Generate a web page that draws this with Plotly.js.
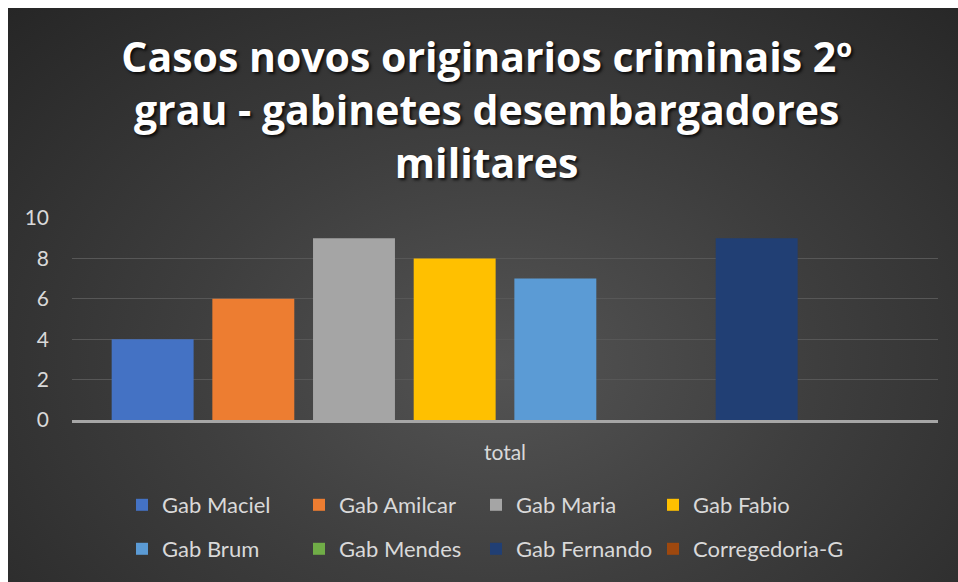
<!DOCTYPE html>
<html>
<head>
<meta charset="utf-8">
<script src="https://cdn.plot.ly/plotly-3.0.1.min.js"></script>
<style>
  html, body { margin: 0; padding: 0; background: #ffffff; width: 958px; height: 582px; overflow: hidden; }
  #bg { position: absolute; left: 8px; top: 8px; width: 950px; height: 574px;
        background: radial-gradient(ellipse farthest-corner at 52% 62%, #545454 0%, #3e3e3e 45%, #262626 100%); }
  #chart { position: absolute; left: 0; top: 0; width: 958px; height: 582px; }
</style>
</head>
<body>
<div id="bg"></div>
<div id="chart"></div>
<script>
const categories = ["total"];
const seriesNames = ["Gab Maciel", "Gab Amilcar", "Gab Maria", "Gab Fabio",
                     "Gab Brum", "Gab Mendes", "Gab Fernando", "Corregedoria-G"];
const seriesValues = [4, 6, 9, 8, 7, 0, 9, 0];
const seriesColors = ["#4472c4", "#ed7d31", "#a5a5a5", "#ffc000",
                      "#5b9bd5", "#70ad47", "#213f74", "#9e480e"];
const titleText = "Casos novos originarios criminais 2º<br>grau - gabinetes desembargadores<br>militares";
const legendIds = ['legend', 'legend', 'legend', 'legend', 'legend2', 'legend2', 'legend2', 'legend3'];

const traces = seriesNames.map((name, i) => ({
  type: 'bar',
  name: name,
  x: categories,
  y: [seriesValues[i]],
  marker: { color: seriesColors[i], line: { width: 0 } },
  legend: legendIds[i],
  hoverinfo: 'none'
}));

const legendFont = { family: 'Lato, "Open Sans", sans-serif', size: 22, color: '#d9d9d9' };

function legendBox(xpx, ypx, ew) {
  return {
    orientation: 'h',
    xref: 'container', yref: 'container',
    x: xpx / 958, xanchor: 'left',
    y: 1 - ypx / 582, yanchor: 'middle',
    font: legendFont,
    bgcolor: 'rgba(0,0,0,0)',
    entrywidth: ew,
    entrywidthmode: 'pixels',
    itemclick: false, itemdoubleclick: false
  };
}

const layout = {
  width: 958,
  height: 582,
  paper_bgcolor: 'rgba(0,0,0,0)',
  plot_bgcolor: 'rgba(0,0,0,0)',
  margin: { l: 72, r: 20, t: 218, b: 162 },
  barmode: 'group',
  bargap: 0.07,
  bargroupgap: 0.186,
  title: {
    text: titleText,
    font: { family: '"Open Sans", Lato, sans-serif', size: 41, weight: 700, color: '#ffffff',
            shadow: '2px 2px 3px rgba(0,0,0,0.8)' },
    x: 0.508, xanchor: 'center', xref: 'container',
    y: 0.877, yanchor: 'middle', yref: 'container'
  },
  xaxis: {
    showgrid: false,
    showline: true,
    linecolor: '#a6a6a6',
    linewidth: 3,
    ticks: '',
    ticklabelstandoff: 12,
    tickfont: { family: 'Lato, "Open Sans", sans-serif', size: 21, color: '#d9d9d9' },
    zeroline: false
  },
  yaxis: {
    range: [0, 10],
    dtick: 2,
    showgrid: true,
    gridcolor: '#575757',
    gridwidth: 1,
    zeroline: false,
    showline: false,
    ticks: '',
    ticklabelstandoff: 22,
    tickfont: { family: 'Lato, "Open Sans", sans-serif', size: 21, color: '#d9d9d9' }
  },
  showlegend: true,
  legend: legendBox(122, 505, 132),
  legend2: legendBox(122, 549, 132),
  legend3: legendBox(653, 549, 200)
};

Plotly.newPlot('chart', traces, layout, { staticPlot: true, displayModeBar: false });
</script>
</body>
</html>
